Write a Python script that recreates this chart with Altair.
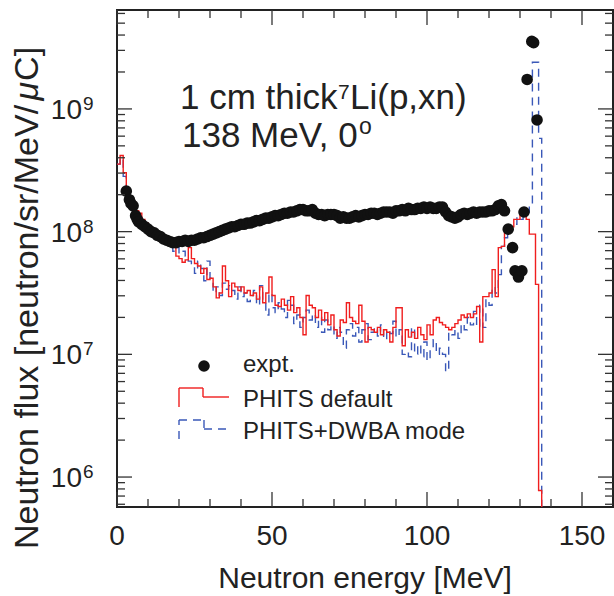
import altair as alt
import pandas as pd

# ---------------- data ----------------
# histogram bin left edges (1 MeV bins) 0..136, last edge 137
bin_edges = list(range(0, 138))

# PHITS default (log10 flux per bin)
red_log = [
    8.55, 8.62, 8.48, 8.30, 8.27, 8.24, 8.17, 8.15, 8.10, 8.07,
    8.04, 8.00, 7.97, 7.97, 7.94, 7.92, 7.93, 7.90, 7.88, 7.80,
    7.78, 7.75, 7.77, 7.87, 7.78, 7.74, 7.72, 7.66, 7.70, 7.61,
    7.62, 7.55, 7.46, 7.50, 7.72, 7.60, 7.47, 7.58, 7.55, 7.52,
    7.55, 7.50, 7.52, 7.48, 7.50, 7.45, 7.55, 7.42, 7.50, 7.63,
    7.48, 7.40, 7.39, 7.45, 7.40, 7.36, 7.47, 7.34, 7.38, 7.30,
    7.16, 7.48, 7.40, 7.38, 7.30, 7.36, 7.28, 7.34, 7.24, 7.32,
    7.20, 7.15, 7.28, 7.26, 7.42, 7.30, 7.27, 7.25, 7.40, 7.27,
    7.10, 7.22, 7.20, 7.18, 7.22, 7.16, 7.20, 7.18, 7.10, 7.22,
    7.38, 7.38, 7.07, 7.20, 7.14, 7.18, 7.13, 7.22, 7.16, 7.12,
    7.24, 7.16, 7.28, 7.30, 7.26, 7.24, 7.22, 7.20, 7.22, 7.25,
    7.28, 7.32, 7.30, 7.33, 7.30, 7.33, 7.39, 7.10, 7.47, 7.47,
    7.50, 7.69, 7.47, 7.87, 7.88, 8.02, 8.02, 8.04, 8.10, 8.10,
    8.15, 8.15, 8.10, 7.98, 7.98, 7.57, 5.89,
]

# PHITS+DWBA mode (log10 flux per bin)
blue_log = [
    8.55, 8.60, 8.45, 8.32, 8.26, 8.22, 8.16, 8.12, 8.08, 8.06,
    8.02, 8.00, 7.98, 7.96, 7.93, 7.90, 7.92, 7.88, 7.84, 7.87,
    7.82, 7.84, 7.80, 7.76, 7.72, 7.66, 7.76, 7.70, 7.60, 7.76,
    7.62, 7.50, 7.55, 7.48, 7.58, 7.53, 7.56, 7.52, 7.45, 7.55,
    7.47, 7.50, 7.43, 7.48, 7.52, 7.40, 7.56, 7.44, 7.32, 7.50,
    7.38, 7.34, 7.42, 7.37, 7.30, 7.44, 7.40, 7.25, 7.32, 7.22,
    7.30, 7.36, 7.28, 7.33, 7.22, 7.30, 7.18, 7.28, 7.20, 7.24,
    7.13, 7.22, 7.18, 7.05, 7.20, 7.25, 7.15, 7.22, 7.10, 7.20,
    7.25, 7.12, 7.18, 7.22, 7.15, 7.24, 7.12, 7.20, 7.17, 7.27,
    7.14, 7.20, 7.00, 7.02, 6.98, 7.22, 7.00, 7.08, 6.98, 7.10,
    6.95, 7.05, 7.12, 7.00, 7.05, 7.00, 6.86, 7.18, 7.16, 7.20,
    7.13, 7.25, 7.20, 7.30, 7.24, 7.35, 7.22, 7.40, 7.22, 7.45,
    7.40, 7.55, 7.50, 7.65, 7.88, 7.95, 8.05, 8.04, 8.06, 8.12,
    8.10, 8.14, 8.16, 8.22, 9.38, 9.38, 8.76,
]

# experimental points
expt_E = [
    3.0, 4.0, 4.5, 5.2, 6.0, 6.5, 7.0, 8, 9, 10, 11, 12, 13, 14, 15, 16, 17, 18, 19,
    20, 21, 22, 23, 24, 25, 26, 27, 28, 29, 30, 31, 32, 33, 34, 35, 36, 37, 38, 39,
    40, 41, 42, 43, 44, 45, 46, 47, 48, 49, 50, 51, 52, 53, 54, 55, 56, 57, 58, 59,
    60, 61, 62, 63, 64, 65, 66, 67, 68, 69, 70, 71, 72, 73, 74, 75, 76, 77, 78, 79,
    80, 81, 82, 83, 84, 85, 86, 87, 88, 89, 90, 91, 92, 93, 94, 95, 96, 97, 98, 99,
    100, 101, 102, 103, 104, 105, 106, 107, 108, 109, 110, 111, 112, 113, 114, 115,
    116, 117, 118, 119, 120, 121, 122, 123, 124, 125,
    126.2, 127.6, 128.4, 129.5, 130.6, 131.3, 132.3, 133.8, 134.4, 135.5,
]
expt_log = [
    8.33, 8.26, 8.23, 8.21, 8.13, 8.10, 8.08, 8.06, 8.04, 8.02, 8.00, 7.99, 7.97, 7.96, 7.94, 7.93, 7.92, 7.91, 7.91,
    7.92, 7.92, 7.93, 7.92, 7.93, 7.93, 7.94, 7.95, 7.95, 7.96, 7.97, 7.98, 7.99, 8.00, 8.01, 8.02, 8.03, 8.04, 8.04, 8.05,
    8.06, 8.06, 8.07, 8.07, 8.08, 8.09, 8.09, 8.10, 8.11, 8.11, 8.12, 8.13, 8.13, 8.14, 8.15, 8.15, 8.16, 8.16, 8.17, 8.18,
    8.18, 8.17, 8.17, 8.18, 8.15, 8.14, 8.14, 8.13, 8.14, 8.14, 8.14, 8.13, 8.11, 8.12, 8.11, 8.11, 8.12, 8.13, 8.12, 8.13,
    8.14, 8.14, 8.15, 8.15, 8.14, 8.15, 8.16, 8.16, 8.16, 8.15, 8.17, 8.17, 8.18, 8.17, 8.19, 8.18, 8.18, 8.19, 8.19, 8.20,
    8.19, 8.20, 8.19, 8.19, 8.20, 8.20, 8.16, 8.13, 8.12, 8.11, 8.12, 8.14, 8.15, 8.14, 8.15, 8.16,
    8.15, 8.16, 8.16, 8.16, 8.17, 8.17, 8.18, 8.21, 8.22, 8.17,
    8.02, 7.87, 7.68, 7.63, 7.68, 8.16, 9.24, 9.55, 9.54, 8.91,
]

x_label_values = [0, 50, 100, 150]
y_label_values = [1e6, 1e7, 1e8, 1e9]
y_label_exps = ["6", "7", "8", "9"]

# ---------------- layout ----------------
W, H = 496, 497
FONT = "Liberation Sans"
TXT = "#222222"
RED = "#f01e1e"
BLUE = "#3a58b8"
FLOOR = 1e5  # below the axis: the histograms drop out of view

xscale = alt.Scale(domain=[0, 160], nice=False, zero=False)
yscale = alt.Scale(type="log", domain=[5.7e5, 6.4e9], nice=False)

red_df = pd.DataFrame({"E": bin_edges, "flux": [10 ** v for v in red_log] + [FLOOR]})
blue_df = pd.DataFrame({"E": bin_edges, "flux": [10 ** v for v in blue_log] + [FLOOR]})
expt_df = pd.DataFrame({"E": expt_E, "flux": [10 ** v for v in expt_log]})

X = alt.X("E:Q", scale=xscale, axis=None)
Y = alt.Y("flux:Q", scale=yscale, axis=None)

blue_line = alt.Chart(blue_df).mark_line(
    interpolate="step-after", color=BLUE, strokeWidth=1.4, strokeDash=[8, 6], clip=True
).encode(x=X, y=Y)
red_line = alt.Chart(red_df).mark_line(
    interpolate="step-after", color=RED, strokeWidth=1.4, clip=True
).encode(x=X, y=Y)
DOT = 135
dots = alt.Chart(expt_df).mark_circle(size=DOT, color="#111111", opacity=1).encode(x=X, y=Y)

# ---------------- ticks (inside, all four sides) ----------------
ymajor = [1e6, 1e7, 1e8, 1e9]
yminor = [k * 10 ** n for n in range(5, 10) for k in range(2, 10)
          if 5.7e5 <= k * 10 ** n <= 6.4e9]
xmajor = [0, 50, 100, 150]
xminor = [v for v in range(10, 160, 10) if v % 50 != 0]

TICKC = "#333333"


def yticks(vals, length):
    df = pd.DataFrame({"v": vals})
    ys = alt.Y("v:Q", scale=yscale, axis=None)
    left = alt.Chart(df).mark_rule(color=TICKC, strokeWidth=1.3).encode(
        y=ys, x=alt.value(0), x2=alt.value(length))
    right = alt.Chart(df).mark_rule(color=TICKC, strokeWidth=1.3).encode(
        y=ys, x=alt.value(W), x2=alt.value(W - length))
    return [left, right]


def xticks(vals, length):
    df = pd.DataFrame({"v": vals})
    xs = alt.X("v:Q", scale=xscale, axis=None)
    top = alt.Chart(df).mark_rule(color=TICKC, strokeWidth=1.3).encode(
        x=xs, y=alt.value(0), y2=alt.value(length))
    bot = alt.Chart(df).mark_rule(color=TICKC, strokeWidth=1.3).encode(
        x=xs, y=alt.value(H), y2=alt.value(H - length))
    return [top, bot]


ticks = yticks(ymajor, 15) + yticks(yminor, 8) + xticks(xmajor, 15) + xticks(xminor, 8)

# ---------------- tick labels ----------------
xlab_df = pd.DataFrame({"v": x_label_values, "t": [str(v) for v in x_label_values]})
xlabels = alt.Chart(xlab_df).mark_text(
    font=FONT, fontSize=28, color=TXT, align="center", baseline="alphabetic"
).encode(x=alt.X("v:Q", scale=xscale, axis=None), y=alt.value(535), text="t:N")

ylab_df = pd.DataFrame({"v": y_label_values, "e": y_label_exps})
ylabels_base = alt.Chart(ylab_df).mark_text(
    font=FONT, fontSize=28, color=TXT, align="right", baseline="alphabetic", dy=10, text="10"
).encode(y=alt.Y("v:Q", scale=yscale, axis=None), x=alt.value(-35))
ylabels_exp = alt.Chart(ylab_df).mark_text(
    font=FONT, fontSize=19, color=TXT, align="left", baseline="alphabetic", dy=1
).encode(y=alt.Y("v:Q", scale=yscale, axis=None), x=alt.value(-34), text="e:N")

one = pd.DataFrame({"k": [0]})


def ptext(s, x, y, size, align="left", angle=0, style="normal"):
    return alt.Chart(one).mark_text(
        text=s, font=FONT, fontSize=size, color=TXT, align=align,
        baseline="alphabetic", angle=angle, fontStyle=style
    ).encode(x=alt.value(x), y=alt.value(y))


def prule(x1, y1, x2, y2, color, dash=None):
    kw = {"strokeDash": dash} if dash else {}
    return alt.Chart(one).mark_rule(color=color, strokeWidth=1.4, **kw).encode(
        x=alt.value(x1), x2=alt.value(x2), y=alt.value(y1), y2=alt.value(y2))


# y title split so that the micro sign can be italic (reads bottom to top)
YT = 34
ytitle_a = "Neutron flux  [neutron/sr/MeV/"
ya_start = 539
ya_len = 13.339 * YT - 5
mu_len = 0.576 * YT

titles = [
    ptext("Neutron energy [MeV]", W / 2, 578, 30, align="center"),
    ptext(ytitle_a, -79, ya_start, YT, align="left", angle=270),
    ptext("\u03bc", -79, ya_start - ya_len, YT, align="left", angle=270, style="italic"),
    ptext("C]", -79, ya_start - ya_len - mu_len, YT, align="left", angle=270),
    # annotation
    ptext("1 cm thick", 63, 99, 35),
    ptext("7", 221, 89, 21),
    ptext("Li(p,xn)", 233, 99, 35),
    ptext("138 MeV, 0", 65, 137, 35),
    ptext("o", 242, 124, 23),
    # legend texts
    ptext("expt.", 126, 362, 24),
    ptext("PHITS default", 126, 397, 24),
    ptext("PHITS+DWBA mode", 126, 429, 24),
]

legend_dot = alt.Chart(one).mark_circle(size=DOT, color="#111111", opacity=1).encode(
    x=alt.value(87), y=alt.value(356))
legend_red = [
    prule(62, 397, 62, 378, RED),
    prule(62, 378, 86, 378, RED),
    prule(86, 378, 86, 387, RED),
    prule(86, 387, 112, 387, RED),
]
legend_blue = [
    prule(62, 429, 62, 410, BLUE, [8, 6]),
    prule(62, 410, 87, 410, BLUE, [8, 6]),
    prule(87, 410, 87, 419, BLUE, [8, 6]),
    prule(87, 419, 112, 419, BLUE, [8, 6]),
]

layers = ([blue_line, red_line, dots] + ticks + [xlabels, ylabels_base, ylabels_exp]
          + titles + [legend_dot] + legend_red + legend_blue)

chart = alt.layer(*layers).properties(
    width=W, height=H,
    autosize=alt.AutoSizeParams(type="none"),
    padding={"left": 117, "top": 10, "right": 1, "bottom": 89},
    background="white",
).configure_view(stroke="#222222", strokeWidth=2)

chart.save("out.html", embed_options={"renderer": "svg", "actions": False})
